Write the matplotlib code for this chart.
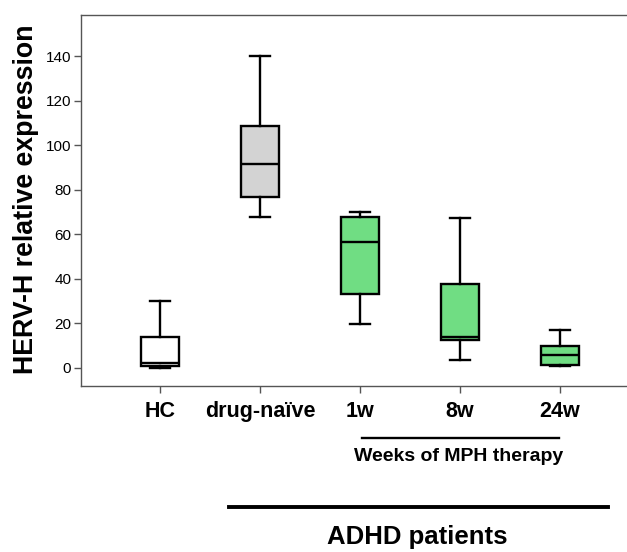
import matplotlib
matplotlib.use("Agg")
import matplotlib.pyplot as plt
import matplotlib.transforms as mtransforms

# box statistics
groups = ['HC', 'drug-naïve', '1w', '8w', '24w']
whisker_low = [0.0, 67.9, 19.9, 3.6, 1.0]
q1 = [1.0, 76.9, 33.2, 12.6, 1.5]
median = [2.1, 91.4, 56.5, 13.8, 5.7]
q3 = [13.8, 108.7, 67.9, 37.7, 9.9]
whisker_high = [30.0, 140.0, 70.0, 67.2, 16.9]
fill_colors = ['white', '#d3d3d3', '#70dd83', '#70dd83', '#70dd83']
yticks = [0, 20, 40, 60, 80, 100, 120, 140]

plt.rcParams['font.family'] = ['Liberation Sans', 'DejaVu Sans']

fig = plt.figure(figsize=(6.27, 5.52), dpi=100)
ax = fig.add_axes([0.129, 0.3007, 0.871, 0.6721])

stats = []
for i, g in enumerate(groups):
    stats.append({'label': g, 'whislo': whisker_low[i], 'q1': q1[i], 'med': median[i],
                  'q3': q3[i], 'whishi': whisker_high[i], 'fliers': []})

lw = 1.7
bp = ax.bxp(stats, positions=range(len(groups)), widths=0.38, patch_artist=True,
            showfliers=False,
            boxprops=dict(linewidth=lw, edgecolor='black'),
            medianprops=dict(color='black', linewidth=lw),
            whiskerprops=dict(color='black', linewidth=lw),
            capprops=dict(color='black', linewidth=lw),
            capwidths=0.2)
for patch, c in zip(bp['boxes'], fill_colors):
    patch.set_facecolor(c)

ax.set_xlim(-0.79, 4.67)
ax.set_ylim(-8.1, 158.4)
ax.set_yticks(yticks)
ax.set_xticks(range(len(groups)))
ax.set_xticklabels(groups, fontsize=15.5, fontweight='bold')
ax.tick_params(axis='y', labelsize=11, length=5, color='#555555', width=1, pad=2)
ax.tick_params(axis='x', length=5, color='#555555', width=1, pad=6)
for side in ['left', 'bottom', 'top']:
    ax.spines[side].set_color('#555555')
    ax.spines[side].set_linewidth(1)
ax.spines['right'].set_visible(False)

# y axis title, placed in figure coordinates
fig.text(33 / 627, 1 - 199 / 552, 'HERV-H relative expression', rotation=90,
         rotation_mode='anchor', ha='center', va='baseline',
         fontsize=19.3, fontweight='bold')

# group annotations below the axis
trans = mtransforms.blended_transform_factory(ax.transData, ax.transAxes)
ax.plot([2.02, 3.99], [-0.140, -0.140], color='black', lw=1.7, transform=trans, clip_on=False)
ax.text(2.99, -0.191, 'Weeks of MPH therapy', transform=trans, ha='center', va='center',
        fontsize=14, fontweight='bold')
ax.plot([0.69, 4.48], [-0.326, -0.326], color='black', lw=2.8, transform=trans, clip_on=False)
ax.text(2.57, -0.407, 'ADHD patients', transform=trans, ha='center', va='center',
        fontsize=18.5, fontweight='bold')

plt.savefig('out.png', dpi=100)
